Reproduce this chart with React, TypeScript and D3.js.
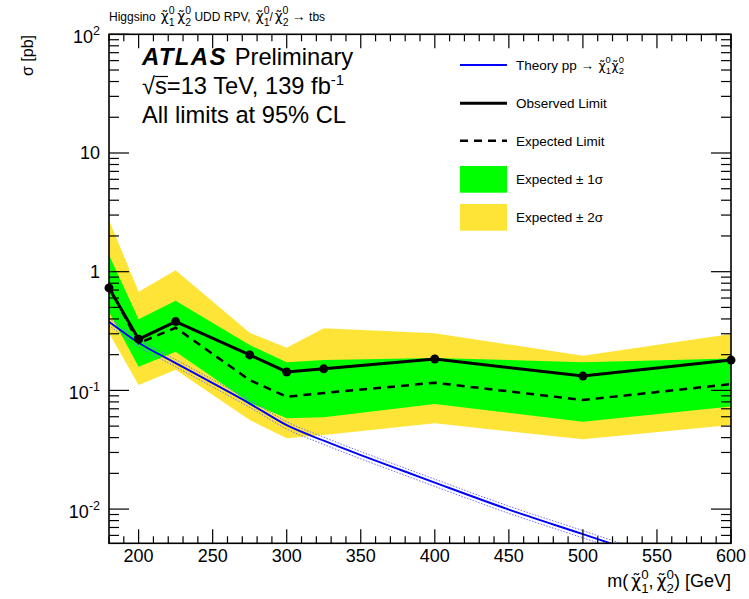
import * as d3 from 'd3'

const W = 749
const H = 599
const FONT = '"Liberation Sans", Arial, Helvetica, sans-serif'
const FRAME = {left: 109, right: 731, top: 34.3, bottom: 543.3}

// limit points
const masses = [180, 200, 225, 275, 300, 325, 400, 500, 600]
const observed = [0.73, 0.27, 0.38, 0.199, 0.143, 0.152, 0.184, 0.132, 0.18]
const expected = [0.75, 0.25, 0.337, 0.122, 0.0885, 0.095, 0.116, 0.083, 0.113]
const plus1 = [1.38, 0.397, 0.57, 0.241, 0.173, 0.18, 0.1875, 0.173, 0.186]
const minus1 = [0.457, 0.158, 0.212, 0.0788, 0.0582, 0.0593, 0.0768, 0.0545, 0.073]
const plus2 = [2.73, 0.678, 1.03, 0.306, 0.229, 0.334, 0.303, 0.196, 0.299]
const minus2 = [0.305, 0.111, 0.149, 0.0563, 0.0395, 0.0421, 0.0528, 0.0387, 0.0511]

// theory cross-section
const theoryMasses = [180, 200, 225, 250, 275, 300, 325, 350, 375, 400, 450, 500, 550, 600]
const theoryXsec = [0.379, 0.252, 0.17, 0.115, 0.0775, 0.0509, 0.0377, 0.0285, 0.0218, 0.0167, 0.0099, 0.00615, 0.0038, 0.0023]
const theoryRelUnc = 0.07

const xTicksMajor = [200, 250, 300, 350, 400, 450, 500, 550, 600]
const yDecades = [0.01, 0.1, 1, 10, 100]

const xScale = d3.scaleLinear().domain([180, 600]).range([FRAME.left, FRAME.right])
const yScale = d3.scaleLog().domain([0.00515, 100]).range([FRAME.bottom, FRAME.top])

// tilde-chi with stacked sub/superscript (ROOT #tilde{#chi}^{0}_{n})
const Chi = ({sub, size, gap = 0, sup = 0.5}: {sub: string; size: number; gap?: number; sup?: number}) => {
  const s = size * 0.7
  return (
    <>
      <tspan fontFamily='"DejaVu Sans", sans-serif' fontSize={size * 0.92} dx={size * 0.05 + gap}>
        χ̃
      </tspan>
      <tspan fontSize={s} baselineShift={-size * 0.3}>
        {sub}
      </tspan>
      <tspan fontSize={s} dx={-s * 0.56} baselineShift={size * sup}>
        0
      </tspan>
    </>
  )
}

export default function App() {
  const yellow = d3
    .area<number>()
    .x((_, i) => xScale(masses[i]))
    .y0(d => yScale(d))
    .y1((_, i) => yScale(plus2[i]))(minus2)
  const green = d3
    .area<number>()
    .x((_, i) => xScale(masses[i]))
    .y0(d => yScale(d))
    .y1((_, i) => yScale(plus1[i]))(minus1)

  const line = d3
    .line<number>()
    .x((_, i) => xScale(masses[i]))
    .y(d => yScale(d))
  const obsPath = line(observed)
  const expPath = line(expected)

  const thLine = d3
    .line<number>()
    .curve(d3.curveMonotoneX)
    .x((_, i) => xScale(theoryMasses[i]))
    .y(d => yScale(d))
  const thPath = thLine(theoryXsec)
  const thUp = thLine(theoryXsec.map(v => v * (1 + theoryRelUnc)))
  const thDn = thLine(theoryXsec.map(v => v * (1 - theoryRelUnc)))

  const xMinor = d3.range(180, 601, 10).filter(v => !xTicksMajor.includes(v))
  const yMinor: number[] = []
  ;[0.001, 0.01, 0.1, 1, 10].forEach(dec => {
    for (let k = 2; k <= 9; k++) {
      const v = dec * k
      if (v >= 0.00515 && v <= 100) yMinor.push(v)
    }
  })

  const ticks = (
    <g stroke="#000" strokeWidth={1.2}>
      {xTicksMajor.map(v => (
        <g key={'xM' + v}>
          <line x1={xScale(v)} x2={xScale(v)} y1={FRAME.bottom} y2={FRAME.bottom - 14} />
          <line x1={xScale(v)} x2={xScale(v)} y1={FRAME.top} y2={FRAME.top + 14} />
        </g>
      ))}
      {xMinor.map(v => (
        <g key={'xm' + v}>
          <line x1={xScale(v)} x2={xScale(v)} y1={FRAME.bottom} y2={FRAME.bottom - 7} />
          <line x1={xScale(v)} x2={xScale(v)} y1={FRAME.top} y2={FRAME.top + 7} />
        </g>
      ))}
      {yDecades.map(v => (
        <g key={'yM' + v}>
          <line x1={FRAME.left} x2={FRAME.left + 20} y1={yScale(v)} y2={yScale(v)} />
          <line x1={FRAME.right} x2={FRAME.right - 20} y1={yScale(v)} y2={yScale(v)} />
        </g>
      ))}
      {yMinor.map(v => (
        <g key={'ym' + v}>
          <line x1={FRAME.left} x2={FRAME.left + 10} y1={yScale(v)} y2={yScale(v)} />
          <line x1={FRAME.right} x2={FRAME.right - 10} y1={yScale(v)} y2={yScale(v)} />
        </g>
      ))}
    </g>
  )

  const yLabel = (v: number) => {
    const y = yScale(v)
    if (v === 1 || v === 10)
      return (
        <text key={v} x={100} y={y + 6.5} textAnchor="end" fontSize={18}>
          {v}
        </text>
      )
    const exp = Math.round(Math.log10(v))
    return (
      <text key={v} x={100} y={y + 9} textAnchor="end" fontSize={18}>
        10
        <tspan fontSize={12.5} baselineShift={8}>
          {exp}
        </tspan>
      </text>
    )
  }

  const legendX = 460
  const legendText = 516
  const LF = 13.5

  return (
    <svg
      width={W}
      height={H}
      style={{position: 'absolute', left: 0, top: 0, background: '#fff'}}
      fontFamily={FONT}>
      <defs>
        <clipPath id="frame">
          <rect x={FRAME.left} y={FRAME.top} width={FRAME.right - FRAME.left} height={FRAME.bottom - FRAME.top} />
        </clipPath>
      </defs>

      <g clipPath="url(#frame)">
        <path d={yellow ?? ''} fill="#ffe438" />
        <path d={green ?? ''} fill="#00ff00" />
        <path d={thUp ?? ''} fill="none" stroke="#7070ff" strokeWidth={1} strokeDasharray="1.5,1.5" />
        <path d={thDn ?? ''} fill="none" stroke="#7070ff" strokeWidth={1} strokeDasharray="1.5,1.5" />
        <path d={thPath ?? ''} fill="none" stroke="#0000ff" strokeWidth={2} />
        <path d={expPath ?? ''} fill="none" stroke="#000" strokeWidth={2.5} strokeDasharray="8,6" />
        <path d={obsPath ?? ''} fill="none" stroke="#000" strokeWidth={3} />
      </g>

      {ticks}
      <rect
        x={FRAME.left}
        y={FRAME.top}
        width={FRAME.right - FRAME.left}
        height={FRAME.bottom - FRAME.top}
        fill="none"
        stroke="#000"
        strokeWidth={1.6}
      />
      {masses.map((m, i) => (
        <circle key={m} cx={xScale(m)} cy={yScale(observed[i])} r={4.5} fill="#000" />
      ))}

      {/* x tick labels */}
      {xTicksMajor.map(v => (
        <text key={v} x={xScale(v)} y={562} textAnchor="middle" fontSize={18}>
          {v}
        </text>
      ))}
      {yDecades.map(yLabel)}

      {/* axis titles */}
      <text x={FRAME.right} y={587} textAnchor="end" fontSize={18}>
        m(<Chi sub="1" size={19} gap={2} sup={0.42} />,<Chi sub="2" size={19} gap={2} sup={0.42} />) [GeV]
      </text>
      <text transform="translate(33,35) rotate(-90)" textAnchor="end" fontSize={16}>
        σ [pb]
      </text>

      {/* title */}
      <text x={109} y={21} fontSize={12}>
        Higgsino <Chi sub="1" size={15} gap={1} />
        <Chi sub="2" size={15} gap={2} /> UDD RPV, <Chi sub="1" size={15} gap={1} />/
        <Chi sub="2" size={15} gap={1} /> <tspan fontSize={14}>→</tspan> tbs
      </text>

      {/* ATLAS label */}
      <text x={142} y={65} fontSize={23.7}>
        <tspan fontWeight="bold" fontStyle="italic" fontSize={24} letterSpacing={1.3}>
          ATLAS
        </tspan>
        <tspan dx={8}>Preliminary</tspan>
      </text>
      <text x={142} y={94} fontSize={23.7}>
        √s=13 TeV, 139 fb
        <tspan fontSize={15} baselineShift={9}>
          -1
        </tspan>
      </text>
      <line x1={155} x2={168} y1={76.5} y2={76.5} stroke="#000" strokeWidth={1.2} />
      <text x={142} y={123} fontSize={23.7}>
        All limits at 95% CL
      </text>

      {/* legend */}
      <line x1={legendX} x2={legendX + 47} y1={65} y2={65} stroke="#0000ff" strokeWidth={2} />
      <text x={legendText} y={69.5} fontSize={LF}>
        Theory pp → <Chi sub="1" size={LF} />
        <Chi sub="2" size={LF} />
      </text>
      <line x1={legendX} x2={legendX + 47} y1={103.3} y2={103.3} stroke="#000" strokeWidth={3} />
      <text x={legendText} y={108} fontSize={LF}>
        Observed Limit
      </text>
      <line
        x1={legendX}
        x2={legendX + 47}
        y1={140.7}
        y2={140.7}
        stroke="#000"
        strokeWidth={2.5}
        strokeDasharray="8,6"
      />
      <text x={legendText} y={145.5} fontSize={LF}>
        Expected Limit
      </text>
      <rect x={legendX} y={166} width={47} height={26.7} fill="#00ff00" />
      <text x={legendText} y={184} fontSize={LF}>
        Expected ± 1σ
      </text>
      <rect x={legendX} y={204} width={47} height={26.7} fill="#ffe438" />
      <text x={legendText} y={221.7} fontSize={LF}>
        Expected ± 2σ
      </text>
    </svg>
  )
}
